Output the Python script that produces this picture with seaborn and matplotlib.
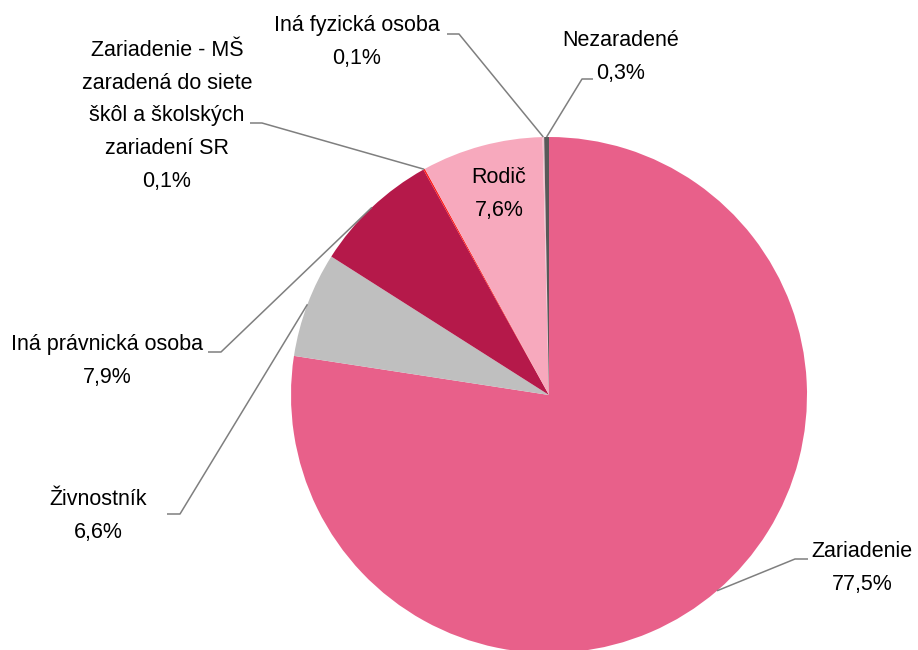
import numpy as np
import matplotlib
matplotlib.use("Agg")
import matplotlib.pyplot as plt
import seaborn as sns

# Data (clockwise from the top)
categories = ["Zariadenie", "Živnostník", "Iná právnická osoba",
              "Zariadenie - MŠ\nzaradená do siete\nškôl a školských\nzariadení SR",
              "Rodič", "Iná fyzická osoba", "Nezaradené"]
shares = [77.5, 6.6, 7.9, 0.1, 7.6, 0.1, 0.3]
colors = ["#E8608A", "#BFBFBF", "#B5194A", "#FF1A1A", "#F7A9BD", "#F2C4D0", "#595959"]

sns.set_style("white")
plt.rcParams["font.family"] = ["Liberation Sans Narrow", "Liberation Sans", "DejaVu Sans"]
plt.rcParams["text.color"] = "black"

W, H = 918, 650
fig = plt.figure(figsize=(W / 100, H / 100), dpi=100)
ax = fig.add_axes([0, 0, 1, 1])

cx, cy, r = 549, H - 395, 258
wedges, _ = ax.pie(shares, colors=colors, startangle=90, counterclock=False,
                   center=(cx, cy), radius=r, frame=True,
                   wedgeprops=dict(linewidth=0))
ax.set_xlim(0, W)
ax.set_ylim(0, H)
ax.set_aspect("equal")
ax.axis("off")

def pct(v):
    return f"{v:.1f}".replace(".", ",") + "%"

# label layout: (text x, text y, line start x, elbow x, line y)  in pixels from top
layout = {
    0: (862, 568, 808, 795, 559),
    1: (98, 516, 167, 180, 514),
    2: (107, 361, 208, 221, 352),
    3: (167, 116, 250, 262, 123),
    5: (357, 42, 447, 459, 34),
    6: (621, 57, 593, 582, 79),
}

fs = 15.5
ls = 1.72
for i, w in enumerate(wedges):
    label = categories[i] + "\n" + pct(shares[i])
    if i == 4:
        ax.text(499, H - 194, label, ha="center", va="center", fontsize=fs,
                linespacing=ls)
        continue
    tx, ty, sx, ex, ly = layout[i]
    ang = np.deg2rad((w.theta1 + w.theta2) / 2)
    px, py = cx + r * np.cos(ang), cy + r * np.sin(ang)
    ax.plot([sx, ex, px], [H - ly, H - ly, py], color="#7F7F7F", lw=1.1,
            solid_capstyle="butt")
    ax.text(tx, H - ty, label, ha="center", va="center", fontsize=fs,
            linespacing=ls)

fig.savefig("out.png", dpi=100)
